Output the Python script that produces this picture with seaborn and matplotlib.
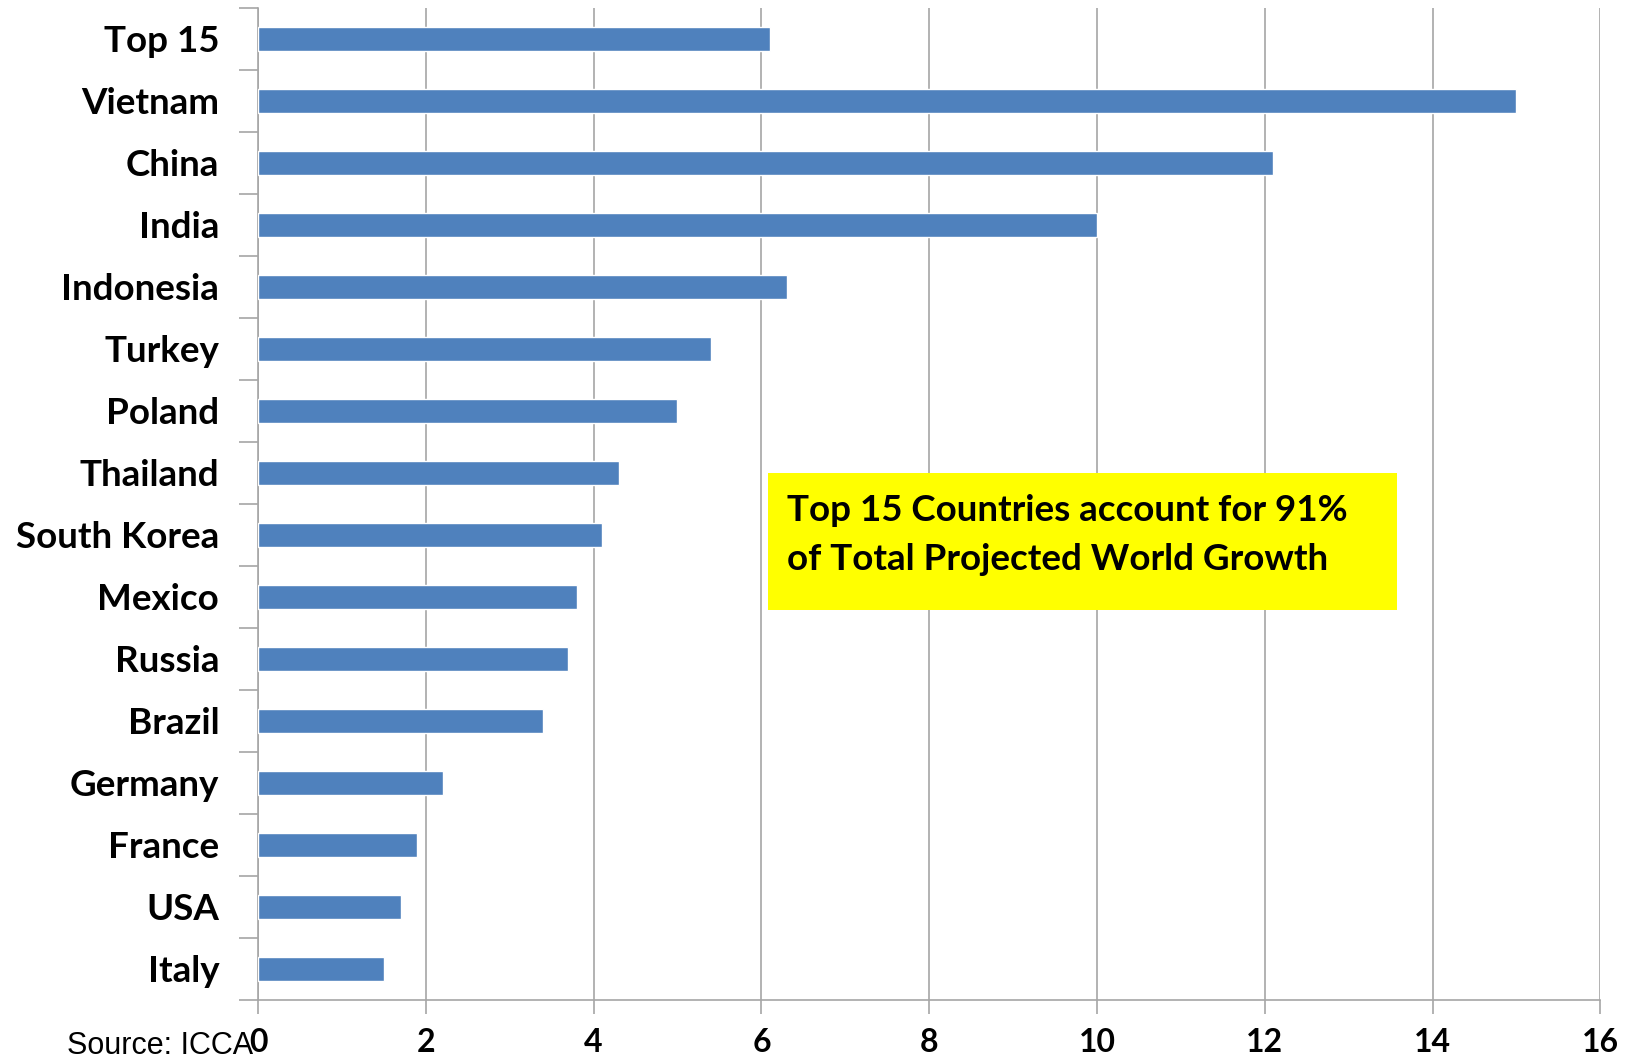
"""Projected growth by country, horizontal bar chart."""

import matplotlib.pyplot as plt
import numpy as np
import pandas as pd
import seaborn as sns
from matplotlib.patches import Rectangle

countries = [
    "Top 15", "Vietnam", "China", "India", "Indonesia", "Turkey", "Poland",
    "Thailand", "South Korea", "Mexico", "Russia", "Brazil", "Germany",
    "France", "USA", "Italy",
]
growth = [6.1, 15.0, 12.1, 10.0, 6.3, 5.4, 5.0, 4.3, 4.1, 3.8, 3.7, 3.4, 2.2, 1.9, 1.7, 1.5]
x_ticks = [0, 2, 4, 6, 8, 10, 12, 14, 16]
note_lines = ["Top 15 Countries account for 91%", "of Total Projected World Growth"]
source_note = "Source: ICCA"

BAR_COLOR = "#4F81BD"
GRID_COLOR = "#A6A6A6"

sns.set_theme(style="white")
plt.rcParams["font.family"] = ["Lato", "DejaVu Sans"]
plt.rcParams["text.color"] = "black"

df = pd.DataFrame({"country": countries, "growth": growth})

fig = plt.figure(figsize=(16.33, 10.63), dpi=100)
ax = fig.add_axes([0.158, 0.0593, 0.822, 0.9332])

sns.barplot(data=df, x="growth", y="country", orient="h", color=BAR_COLOR,
            saturation=1, width=0.38, ax=ax, zorder=3)

ax.set_xlim(0, 16)
ax.set_ylim(len(countries) - 0.5, -0.5)
ax.set_xticks(x_ticks)
ax.set_xticklabels([str(t) for t in x_ticks], fontsize=23, fontweight="bold")
ax.xaxis.grid(True, color=GRID_COLOR, linewidth=1.2, zorder=0)
ax.set_axisbelow(True)
ax.set_xlabel("")
ax.set_ylabel("")

# category labels without ticks, tick marks at category boundaries
ax.tick_params(axis="y", which="major", length=0, pad=28, labelsize=26.5,
               labelcolor="black")
for lbl in ax.get_yticklabels():
    lbl.set_fontweight("bold")
ax.set_yticks(np.arange(-0.5, len(countries), 1.0), minor=True)
ax.tick_params(axis="y", which="minor", left=True, length=14, width=1.2, color=GRID_COLOR)
ax.tick_params(axis="x", which="major", bottom=True, length=10, width=1.2,
               color=GRID_COLOR, pad=10, labelcolor="black")

for side in ["top", "right"]:
    ax.spines[side].set_visible(False)
for side in ["left", "bottom"]:
    ax.spines[side].set_color(GRID_COLOR)
    ax.spines[side].set_linewidth(1.2)

# yellow callout box
ax.add_patch(Rectangle((6.08, 7.0), 7.5, 2.21, facecolor="#FFFF00",
                       edgecolor="none", zorder=4))
ax.text(6.3, 7.6, note_lines[0], fontsize=26.5, fontweight="bold",
        va="center", ha="left", zorder=5)
ax.text(6.3, 8.39, note_lines[1], fontsize=26.5, fontweight="bold",
        va="center", ha="left", zorder=5)

fig.text(0.041, 0.002, source_note, fontsize=22, family="Liberation Sans",
         ha="left", va="bottom")

fig.savefig("out.png", dpi=100)
